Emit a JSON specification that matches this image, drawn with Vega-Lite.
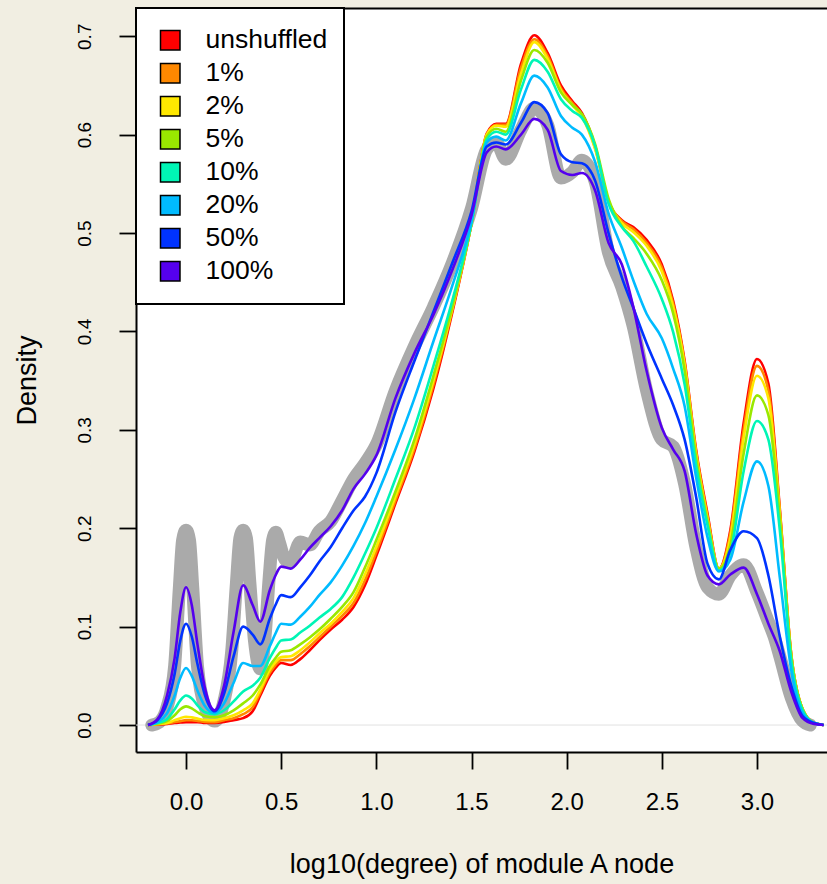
{
  "$schema": "https://vega.github.io/schema/vega-lite/v6.json",
  "width": 691,
  "height": 744,
  "autosize": {"type": "none"},
  "padding": {"left": 136, "top": 8, "right": 0, "bottom": 132},
  "background": "#f1eee2",
  "config": {
    "view": {"fill": "white", "stroke": null},
    "font": "Liberation Sans",
    "axis": {"grid": false, "domainColor": "black", "domainWidth": 2, "tickColor": "black", "tickWidth": 1.8, "tickSize": 17, "labelColor": "black", "titleColor": "black", "titleFontWeight": "normal", "labelFont": "Liberation Sans", "titleFont": "Liberation Sans"},
    "legend": {"orient": "top-left", "offset": 0, "padding": 16, "strokeColor": "black", "strokeWidth": 2, "fillColor": "white", "symbolType": "square", "symbolSize": 380, "symbolStrokeColor": "black", "symbolStrokeWidth": 1.5, "labelFontSize": 26.5, "labelFont": "Liberation Sans", "labelColor": "black", "labelOffset": 22, "symbolOffset": 5, "clipHeight": 32.3, "rowPadding": 0, "labelLimit": 400, "cornerRadius": 0}
  },
  "datasets": {
    "curves": [
      {"x": -0.2, "unshuffled": 0, "1%": 0, "2%": 0, "5%": 0, "10%": 0, "20%": 0, "50%": 0, "100%": 0},
      {"x": -0.15, "unshuffled": 0.0005, "1%": 0.0007, "2%": 0.001, "5%": 0.0015, "10%": 0.002, "20%": 0.003, "50%": 0.005, "100%": 0.006},
      {"x": -0.1, "unshuffled": 0.001, "1%": 0.0015, "2%": 0.002, "5%": 0.004, "10%": 0.006, "20%": 0.012, "50%": 0.022, "100%": 0.03},
      {"x": -0.06, "unshuffled": 0.002, "1%": 0.003, "2%": 0.005, "5%": 0.01, "10%": 0.016, "20%": 0.03, "50%": 0.052, "100%": 0.068},
      {"x": -0.03, "unshuffled": 0.0025, "1%": 0.004, "2%": 0.007, "5%": 0.016, "10%": 0.025, "20%": 0.048, "50%": 0.086, "100%": 0.115},
      {"x": 0, "unshuffled": 0.003, "1%": 0.005, "2%": 0.0085, "5%": 0.019, "10%": 0.03, "20%": 0.058, "50%": 0.103, "100%": 0.14},
      {"x": 0.03, "unshuffled": 0.003, "1%": 0.0048, "2%": 0.0078, "5%": 0.017, "10%": 0.027, "20%": 0.05, "50%": 0.09, "100%": 0.122},
      {"x": 0.06, "unshuffled": 0.003, "1%": 0.0042, "2%": 0.0065, "5%": 0.013, "10%": 0.02, "20%": 0.035, "50%": 0.062, "100%": 0.082},
      {"x": 0.1, "unshuffled": 0.002, "1%": 0.0032, "2%": 0.0052, "5%": 0.009, "10%": 0.013, "20%": 0.019, "50%": 0.03, "100%": 0.037},
      {"x": 0.15, "unshuffled": 0.002, "1%": 0.003, "2%": 0.005, "5%": 0.008, "10%": 0.011, "20%": 0.012, "50%": 0.014, "100%": 0.015},
      {"x": 0.2, "unshuffled": 0.003, "1%": 0.005, "2%": 0.007, "5%": 0.01, "10%": 0.015, "20%": 0.022, "50%": 0.032, "100%": 0.04},
      {"x": 0.25, "unshuffled": 0.005, "1%": 0.007, "2%": 0.01, "5%": 0.015, "10%": 0.024, "20%": 0.043, "50%": 0.07, "100%": 0.095},
      {"x": 0.3, "unshuffled": 0.007, "1%": 0.011, "2%": 0.015, "5%": 0.022, "10%": 0.034, "20%": 0.063, "50%": 0.1, "100%": 0.142},
      {"x": 0.35, "unshuffled": 0.014, "1%": 0.018, "2%": 0.022, "5%": 0.03, "10%": 0.04, "20%": 0.06, "50%": 0.092, "100%": 0.122},
      {"x": 0.39, "unshuffled": 0.03, "1%": 0.033, "2%": 0.036, "5%": 0.041, "10%": 0.048, "20%": 0.06, "50%": 0.082, "100%": 0.105},
      {"x": 0.44, "unshuffled": 0.05, "1%": 0.053, "2%": 0.056, "5%": 0.06, "10%": 0.068, "20%": 0.08, "50%": 0.108, "100%": 0.137},
      {"x": 0.47, "unshuffled": 0.058, "1%": 0.061, "2%": 0.064, "5%": 0.068, "10%": 0.078, "20%": 0.093, "50%": 0.122, "100%": 0.152},
      {"x": 0.5, "unshuffled": 0.063, "1%": 0.066, "2%": 0.069, "5%": 0.0745, "10%": 0.086, "20%": 0.103, "50%": 0.132, "100%": 0.161},
      {"x": 0.55, "unshuffled": 0.061, "1%": 0.066, "2%": 0.07, "5%": 0.076, "10%": 0.087, "20%": 0.102, "50%": 0.13, "100%": 0.159},
      {"x": 0.6, "unshuffled": 0.067, "1%": 0.072, "2%": 0.076, "5%": 0.082, "10%": 0.094, "20%": 0.11, "50%": 0.14, "100%": 0.168},
      {"x": 0.65, "unshuffled": 0.076, "1%": 0.08, "2%": 0.084, "5%": 0.089, "10%": 0.101, "20%": 0.12, "50%": 0.152, "100%": 0.18},
      {"x": 0.7, "unshuffled": 0.086, "1%": 0.089, "2%": 0.093, "5%": 0.097, "10%": 0.109, "20%": 0.132, "50%": 0.166, "100%": 0.19},
      {"x": 0.76, "unshuffled": 0.097, "1%": 0.1, "2%": 0.103, "5%": 0.108, "10%": 0.118, "20%": 0.145, "50%": 0.181, "100%": 0.202},
      {"x": 0.82, "unshuffled": 0.107, "1%": 0.111, "2%": 0.115, "5%": 0.12, "10%": 0.13, "20%": 0.162, "50%": 0.2, "100%": 0.218},
      {"x": 0.88, "unshuffled": 0.12, "1%": 0.124, "2%": 0.129, "5%": 0.135, "10%": 0.15, "20%": 0.182, "50%": 0.218, "100%": 0.24},
      {"x": 0.94, "unshuffled": 0.142, "1%": 0.147, "2%": 0.153, "5%": 0.16, "10%": 0.174, "20%": 0.205, "50%": 0.232, "100%": 0.255},
      {"x": 1.0, "unshuffled": 0.172, "1%": 0.176, "2%": 0.181, "5%": 0.188, "10%": 0.2, "20%": 0.232, "50%": 0.256, "100%": 0.274},
      {"x": 1.1, "unshuffled": 0.225, "1%": 0.228, "2%": 0.232, "5%": 0.237, "10%": 0.25, "20%": 0.28, "50%": 0.318, "100%": 0.332},
      {"x": 1.2, "unshuffled": 0.278, "1%": 0.281, "2%": 0.285, "5%": 0.29, "10%": 0.302, "20%": 0.332, "50%": 0.37, "100%": 0.378},
      {"x": 1.3, "unshuffled": 0.342, "1%": 0.346, "2%": 0.35, "5%": 0.355, "10%": 0.365, "20%": 0.39, "50%": 0.42, "100%": 0.417},
      {"x": 1.4, "unshuffled": 0.42, "1%": 0.422, "2%": 0.424, "5%": 0.426, "10%": 0.432, "20%": 0.447, "50%": 0.47, "100%": 0.463},
      {"x": 1.5, "unshuffled": 0.51, "1%": 0.51, "2%": 0.51, "5%": 0.51, "10%": 0.51, "20%": 0.512, "50%": 0.522, "100%": 0.518},
      {"x": 1.58, "unshuffled": 0.601, "1%": 0.6, "2%": 0.6, "5%": 0.598, "10%": 0.595, "20%": 0.592, "50%": 0.588, "100%": 0.582},
      {"x": 1.63, "unshuffled": 0.611, "1%": 0.61, "2%": 0.609, "5%": 0.606, "10%": 0.603, "20%": 0.598, "50%": 0.592, "100%": 0.588},
      {"x": 1.68, "unshuffled": 0.611, "1%": 0.61, "2%": 0.608, "5%": 0.603, "10%": 0.6, "20%": 0.594, "50%": 0.59, "100%": 0.585},
      {"x": 1.76, "unshuffled": 0.672, "1%": 0.668, "2%": 0.662, "5%": 0.655, "10%": 0.646, "20%": 0.632, "50%": 0.612, "100%": 0.6},
      {"x": 1.83, "unshuffled": 0.701, "1%": 0.697, "2%": 0.694, "5%": 0.686, "10%": 0.676, "20%": 0.66, "50%": 0.633, "100%": 0.616},
      {"x": 1.9, "unshuffled": 0.683, "1%": 0.68, "2%": 0.677, "5%": 0.673, "10%": 0.664, "20%": 0.648, "50%": 0.622, "100%": 0.605},
      {"x": 1.97, "unshuffled": 0.65, "1%": 0.647, "2%": 0.645, "5%": 0.643, "10%": 0.636, "20%": 0.619, "50%": 0.58, "100%": 0.563},
      {"x": 2.03, "unshuffled": 0.634, "1%": 0.632, "2%": 0.63, "5%": 0.63, "10%": 0.624, "20%": 0.607, "50%": 0.572, "100%": 0.559},
      {"x": 2.08, "unshuffled": 0.622, "1%": 0.62, "2%": 0.618, "5%": 0.621, "10%": 0.617, "20%": 0.6, "50%": 0.571, "100%": 0.561},
      {"x": 2.15, "unshuffled": 0.588, "1%": 0.586, "2%": 0.585, "5%": 0.59, "10%": 0.588, "20%": 0.572, "50%": 0.553, "100%": 0.543},
      {"x": 2.22, "unshuffled": 0.532, "1%": 0.532, "2%": 0.533, "5%": 0.535, "10%": 0.53, "20%": 0.52, "50%": 0.5, "100%": 0.49},
      {"x": 2.29, "unshuffled": 0.513, "1%": 0.512, "2%": 0.51, "5%": 0.507, "10%": 0.506, "20%": 0.485, "50%": 0.455, "100%": 0.468},
      {"x": 2.35, "unshuffled": 0.506, "1%": 0.504, "2%": 0.501, "5%": 0.495, "10%": 0.492, "20%": 0.452, "50%": 0.424, "100%": 0.425},
      {"x": 2.42, "unshuffled": 0.493, "1%": 0.49, "2%": 0.487, "5%": 0.479, "10%": 0.466, "20%": 0.418, "50%": 0.388, "100%": 0.36},
      {"x": 2.5, "unshuffled": 0.468, "1%": 0.465, "2%": 0.461, "5%": 0.452, "10%": 0.433, "20%": 0.393, "50%": 0.352, "100%": 0.302},
      {"x": 2.56, "unshuffled": 0.431, "1%": 0.428, "2%": 0.425, "5%": 0.418, "10%": 0.399, "20%": 0.362, "50%": 0.325, "100%": 0.28},
      {"x": 2.62, "unshuffled": 0.37, "1%": 0.368, "2%": 0.366, "5%": 0.36, "10%": 0.346, "20%": 0.324, "50%": 0.29, "100%": 0.258},
      {"x": 2.68, "unshuffled": 0.28, "1%": 0.278, "2%": 0.276, "5%": 0.272, "10%": 0.264, "20%": 0.252, "50%": 0.232, "100%": 0.195},
      {"x": 2.74, "unshuffled": 0.215, "1%": 0.213, "2%": 0.21, "5%": 0.207, "10%": 0.203, "20%": 0.191, "50%": 0.164, "100%": 0.152},
      {"x": 2.8, "unshuffled": 0.159, "1%": 0.159, "2%": 0.159, "5%": 0.159, "10%": 0.157, "20%": 0.156, "50%": 0.148, "100%": 0.143},
      {"x": 2.86, "unshuffled": 0.198, "1%": 0.195, "2%": 0.19, "5%": 0.183, "10%": 0.175, "20%": 0.168, "50%": 0.178, "100%": 0.153},
      {"x": 2.93, "unshuffled": 0.307, "1%": 0.3, "2%": 0.292, "5%": 0.276, "10%": 0.258, "20%": 0.227, "50%": 0.197, "100%": 0.16},
      {"x": 3.0, "unshuffled": 0.372, "1%": 0.365, "2%": 0.355, "5%": 0.335, "10%": 0.309, "20%": 0.268, "50%": 0.19, "100%": 0.133},
      {"x": 3.06, "unshuffled": 0.347, "1%": 0.34, "2%": 0.332, "5%": 0.315, "10%": 0.29, "20%": 0.243, "50%": 0.152, "100%": 0.103},
      {"x": 3.12, "unshuffled": 0.22, "1%": 0.218, "2%": 0.215, "5%": 0.21, "10%": 0.198, "20%": 0.15, "50%": 0.09, "100%": 0.075},
      {"x": 3.18, "unshuffled": 0.072, "1%": 0.072, "2%": 0.071, "5%": 0.07, "10%": 0.066, "20%": 0.056, "50%": 0.04, "100%": 0.034},
      {"x": 3.24, "unshuffled": 0.016, "1%": 0.016, "2%": 0.016, "5%": 0.016, "10%": 0.015, "20%": 0.012, "50%": 0.009, "100%": 0.007},
      {"x": 3.3, "unshuffled": 0.002, "1%": 0.002, "2%": 0.002, "5%": 0.002, "10%": 0.002, "20%": 0.002, "50%": 0.002, "100%": 0.001},
      {"x": 3.35, "unshuffled": 0, "1%": 0, "2%": 0, "5%": 0, "10%": 0, "20%": 0, "50%": 0, "100%": 0}
    ],
    "gray": [
      {"x": -0.18, "d": 0}, {"x": -0.14, "d": 0.003}, {"x": -0.1, "d": 0.018}, {"x": -0.06, "d": 0.06},
      {"x": -0.035, "d": 0.14}, {"x": -0.018, "d": 0.188}, {"x": 0, "d": 0.198}, {"x": 0.018, "d": 0.188},
      {"x": 0.035, "d": 0.14}, {"x": 0.06, "d": 0.06}, {"x": 0.1, "d": 0.018}, {"x": 0.15, "d": 0.004},
      {"x": 0.2, "d": 0.025}, {"x": 0.24, "d": 0.075}, {"x": 0.265, "d": 0.145}, {"x": 0.283, "d": 0.19},
      {"x": 0.3, "d": 0.198}, {"x": 0.317, "d": 0.19}, {"x": 0.335, "d": 0.145}, {"x": 0.36, "d": 0.085},
      {"x": 0.39, "d": 0.057}, {"x": 0.415, "d": 0.09}, {"x": 0.437, "d": 0.15}, {"x": 0.455, "d": 0.188},
      {"x": 0.472, "d": 0.196}, {"x": 0.49, "d": 0.186}, {"x": 0.52, "d": 0.168}, {"x": 0.55, "d": 0.166},
      {"x": 0.6, "d": 0.186}, {"x": 0.65, "d": 0.183}, {"x": 0.7, "d": 0.197}, {"x": 0.76, "d": 0.207},
      {"x": 0.82, "d": 0.228}, {"x": 0.88, "d": 0.25}, {"x": 0.94, "d": 0.266}, {"x": 1.0, "d": 0.285},
      {"x": 1.1, "d": 0.34}, {"x": 1.2, "d": 0.385}, {"x": 1.3, "d": 0.425}, {"x": 1.4, "d": 0.47},
      {"x": 1.5, "d": 0.525}, {"x": 1.58, "d": 0.585}, {"x": 1.63, "d": 0.592}, {"x": 1.68, "d": 0.575},
      {"x": 1.76, "d": 0.605}, {"x": 1.83, "d": 0.627}, {"x": 1.9, "d": 0.61}, {"x": 1.97, "d": 0.556},
      {"x": 2.03, "d": 0.562}, {"x": 2.08, "d": 0.574}, {"x": 2.15, "d": 0.552}, {"x": 2.22, "d": 0.48},
      {"x": 2.29, "d": 0.445}, {"x": 2.35, "d": 0.405}, {"x": 2.42, "d": 0.34}, {"x": 2.5, "d": 0.29},
      {"x": 2.56, "d": 0.283}, {"x": 2.62, "d": 0.245}, {"x": 2.68, "d": 0.18}, {"x": 2.74, "d": 0.14},
      {"x": 2.8, "d": 0.133}, {"x": 2.86, "d": 0.152}, {"x": 2.93, "d": 0.163}, {"x": 3.0, "d": 0.135},
      {"x": 3.06, "d": 0.105}, {"x": 3.09, "d": 0.09}, {"x": 3.12, "d": 0.07}, {"x": 3.18, "d": 0.028},
      {"x": 3.24, "d": 0.004}, {"x": 3.28, "d": 0}
    ]
  },
  "layer": [
    {
      "data": {"values": [{}]},
      "mark": {"type": "rule", "color": "#e2e2e2", "strokeWidth": 1},
      "encoding": {
        "y": {"datum": 0, "type": "quantitative", "scale": {"domain": [-0.0274, 0.7287], "nice": false, "zero": false},
              "axis": {"values": [0, 0.1, 0.2, 0.3, 0.4, 0.5, 0.6, 0.7], "format": ".1f", "labelAngle": -90, "labelAlign": "center", "labelBaseline": "alphabetic", "labelPadding": 29, "labelFontSize": 19, "title": "Density", "titleFontSize": 27, "titlePadding": 34}}
      }
    },
    {
      "data": {"name": "gray"},
      "mark": {"type": "line", "color": "#aaaaaa", "strokeWidth": 13, "interpolate": "monotone", "strokeCap": "round", "strokeJoin": "round"},
      "encoding": {
        "x": {"field": "x", "type": "quantitative", "scale": {"domain": [-0.263, 3.368], "nice": false, "zero": false},
              "axis": {"orient": "top", "ticks": false, "labels": false, "title": null, "domain": true}},
        "y": {"field": "d", "type": "quantitative", "scale": {"domain": [-0.0274, 0.7287], "nice": false, "zero": false},
              "axis": {"values": [0, 0.1, 0.2, 0.3, 0.4, 0.5, 0.6, 0.7], "format": ".1f", "labelAngle": -90, "labelAlign": "center", "labelBaseline": "alphabetic", "labelPadding": 29, "labelFontSize": 19, "title": "Density", "titleFontSize": 27, "titlePadding": 34}}
      }
    },
    {
      "data": {"name": "curves"},
      "transform": [{"fold": ["unshuffled", "1%", "2%", "5%", "10%", "20%", "50%", "100%"], "as": ["series", "density"]}],
      "mark": {"type": "line", "strokeWidth": 2.6, "interpolate": "monotone"},
      "encoding": {
        "x": {"field": "x", "type": "quantitative", "scale": {"domain": [-0.263, 3.368], "nice": false, "zero": false},
              "axis": {"orient": "bottom", "values": [0, 0.5, 1, 1.5, 2, 2.5, 3], "format": ".1f", "labelFontSize": 24, "labelPadding": 21, "title": "log10(degree) of module A node", "titleFontSize": 27, "titlePadding": 37}},
        "y": {"field": "density", "type": "quantitative", "scale": {"domain": [-0.0274, 0.7287], "nice": false, "zero": false},
              "axis": {"values": [0, 0.1, 0.2, 0.3, 0.4, 0.5, 0.6, 0.7], "format": ".1f", "labelAngle": -90, "labelAlign": "center", "labelBaseline": "alphabetic", "labelPadding": 29, "labelFontSize": 19, "title": "Density", "titleFontSize": 27, "titlePadding": 34}},
        "color": {"field": "series", "type": "nominal",
                  "scale": {"domain": ["100%", "50%", "20%", "10%", "5%", "2%", "1%", "unshuffled"], "range": ["#5500ee", "#0033ff", "#00bbff", "#00f5b5", "#99e800", "#ffe800", "#ff8800", "#ff0000"]},
                  "legend": null}
      }
    },
    {
      "data": {"name": "curves"},
      "transform": [{"fold": ["unshuffled", "1%", "2%", "5%", "10%", "20%", "50%", "100%"], "as": ["series", "density"]}, {"filter": "false"}],
      "mark": {"type": "square", "filled": true, "stroke": "black", "strokeWidth": 1.5, "size": 380, "opacity": 1},
      "encoding": {
        "x": {"field": "x", "type": "quantitative", "scale": {"domain": [-0.263, 3.368], "nice": false, "zero": false}, "axis": null},
        "y": {"field": "density", "type": "quantitative", "scale": {"domain": [-0.0274, 0.7287], "nice": false, "zero": false},
              "axis": {"values": [0, 0.1, 0.2, 0.3, 0.4, 0.5, 0.6, 0.7], "format": ".1f", "labelAngle": -90, "labelAlign": "center", "labelBaseline": "alphabetic", "labelPadding": 29, "labelFontSize": 19, "title": "Density", "titleFontSize": 27, "titlePadding": 34}},
        "fill": {"field": "series", "type": "nominal",
                 "scale": {"domain": ["unshuffled", "1%", "2%", "5%", "10%", "20%", "50%", "100%"], "range": ["#ff0000", "#ff8800", "#ffe800", "#99e800", "#00f5b5", "#00bbff", "#0033ff", "#5500ee"]},
                 "legend": {"title": null, "symbolType": "square", "symbolSize": 380, "symbolStrokeColor": "black", "symbolStrokeWidth": 1.5}}
      }
    }
  ],
  "resolve": {"axis": {"x": "independent"}}
}
